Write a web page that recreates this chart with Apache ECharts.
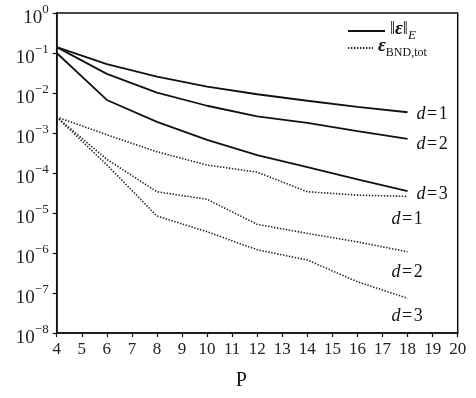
<!DOCTYPE html>
<html>
<head>
<meta charset="utf-8">
<script src="https://cdn.jsdelivr.net/npm/echarts@6/dist/echarts.min.js"></script>
<style>html,body{margin:0;padding:0;background:#fff}#c{width:476px;height:398px}</style>
</head>
<body>
<div id="c"></div>
<script>
var P = [4, 6, 8, 10, 12, 14, 16, 18];
var E_d1 = [0.14, 0.053, 0.0255, 0.0144, 0.0093, 0.0064, 0.0045, 0.0033];
var E_d2 = [0.14, 0.030, 0.0102, 0.0048, 0.0026, 0.0018, 0.00112, 0.00071];
var E_d3 = [0.10, 0.0067, 0.0019, 0.00067, 0.00028, 0.00014, 0.000069, 0.000035];
var B_d1 = [0.0025, 0.0009, 0.00034, 0.000158, 0.000105, 0.000034, 0.000028, 0.000026];
var B_d2 = [0.0025, 0.00022, 0.000034, 0.000022, 0.0000052, 0.0000031, 0.0000019, 0.00000107];
var B_d3 = [0.0025, 0.00016, 0.0000084, 0.0000034, 0.0000012, 0.00000067, 0.00000019, 0.000000074];
var dLabels = ['1', '2', '3'];
var xTicks = [4, 20, 1];
var yRange = [1e-8, 1];

var FONT = 'Liberation Serif';
function pairs(ys) { return P.map(function (p, i) { return [p, ys[i]]; }); }
var labelRich = {
  i: { fontFamily: FONT, fontStyle: 'italic', fontSize: 18, color: '#111' },
  n: { fontFamily: FONT, fontSize: 18, color: '#111' }
};
function dLabel(k) { return '{i|d}{n|\u200A=\u200A' + dLabels[k] + '}'; }

function solid(ys, k, offY) {
  return {
    type: 'line', name: 'E', data: pairs(ys), symbol: 'none', silent: true,
    itemStyle: { color: '#111' },
    lineStyle: { color: '#111', width: 1.8, type: 'solid' },
    endLabel: { show: true, formatter: function () { return dLabel(k); }, rich: labelRich, distance: 9, offset: [0, offY] }
  };
}
function dotted(ys, k, offY) {
  return {
    type: 'line', name: 'BND', data: pairs(ys), symbol: 'none', silent: true,
    itemStyle: { color: '#222' },
    lineStyle: { color: '#222', width: 1.6, type: [1.4, 1.6], cap: 'butt' },
    endLabel: { show: true, formatter: function () { return dLabel(k); }, rich: labelRich, distance: 9, offset: [-25, offY] }
  };
}

var chart = echarts.init(document.getElementById('c'), null, { renderer: 'canvas' });
chart.setOption({
  animation: false,
  backgroundColor: '#fff',
  grid: { left: 56.7, right: 18.3, top: 13, bottom: 65, show: true, borderColor: '#111', borderWidth: 1.5, backgroundColor: 'transparent' },
  legend: [
    {
      data: ['E'], left: 342, top: 15, itemWidth: 37, itemHeight: 14, itemGap: 5,
      itemStyle: { opacity: 0 },
      formatter: function () { return '{n|\u2016}{e|\u03B5}{n|\u2016}{s|E}'; },
      textStyle: {
        rich: {
          n: { fontFamily: FONT, fontSize: 18, color: '#111', lineHeight: 22, verticalAlign: 'top' },
          e: { fontFamily: FONT, fontSize: 19, fontStyle: 'italic', fontWeight: 'bold', color: '#111', lineHeight: 22, verticalAlign: 'top' },
          s: { fontFamily: FONT, fontSize: 13, fontStyle: 'italic', color: '#111', lineHeight: 22, verticalAlign: 'bottom' }
        }
      }
    },
    {
      data: ['BND'], left: 342, top: 32, itemWidth: 25, itemHeight: 14, itemGap: 1,
      itemStyle: { opacity: 0 },
      formatter: function () { return '{e|\u03B5}{s|BND,tot}'; },
      textStyle: {
        rich: {
          e: { fontFamily: FONT, fontSize: 19, fontStyle: 'italic', fontWeight: 'bold', color: '#111', lineHeight: 22, verticalAlign: 'top' },
          s: { fontFamily: FONT, fontSize: 12, color: '#111', lineHeight: 22, verticalAlign: 'bottom' }
        }
      }
    }
  ],
  xAxis: {
    type: 'value', min: xTicks[0], max: xTicks[1], interval: xTicks[2],
    name: 'P', nameLocation: 'middle', nameGap: 38,
    nameTextStyle: { fontFamily: FONT, fontSize: 20, color: '#111', padding: [0, 32, 0, 0] },
    axisLine: { show: true, lineStyle: { color: '#111', width: 1.5 } },
    axisTick: { show: true, inside: false, length: 4, lineStyle: { color: '#111', width: 1.2 } },
    axisLabel: { fontFamily: FONT, fontSize: 17, color: '#222', margin: 8 },
    splitLine: { show: false }
  },
  yAxis: {
    type: 'log', logBase: 10, min: yRange[0], max: yRange[1],
    axisLine: { show: true, lineStyle: { color: '#111', width: 1.5 } },
    axisTick: { show: true, inside: false, length: 4, lineStyle: { color: '#111', width: 1.2 } },
    minorTick: { show: false },
    splitLine: { show: false },
    axisLabel: {
      margin: 8,
      padding: [5, 0, 0, 0],
      formatter: function (v) {
        var e = Math.round(Math.log10(v));
        return '{b|10}{s|' + (e < 0 ? '\u2212' + (-e) : e) + '}';
      },
      rich: {
        b: { fontFamily: FONT, fontSize: 19, color: '#222', lineHeight: 24, verticalAlign: 'bottom' },
        s: { fontFamily: FONT, fontSize: 13, color: '#222', lineHeight: 10, verticalAlign: 'top' }
      }
    }
  },
  series: [
    solid(E_d1, 0, 2),
    solid(E_d2, 1, 5),
    solid(E_d3, 2, 3),
    dotted(B_d1, 0, 23),
    dotted(B_d2, 1, 20),
    dotted(B_d3, 2, 18)
  ]
});
</script>
</body>
</html>
